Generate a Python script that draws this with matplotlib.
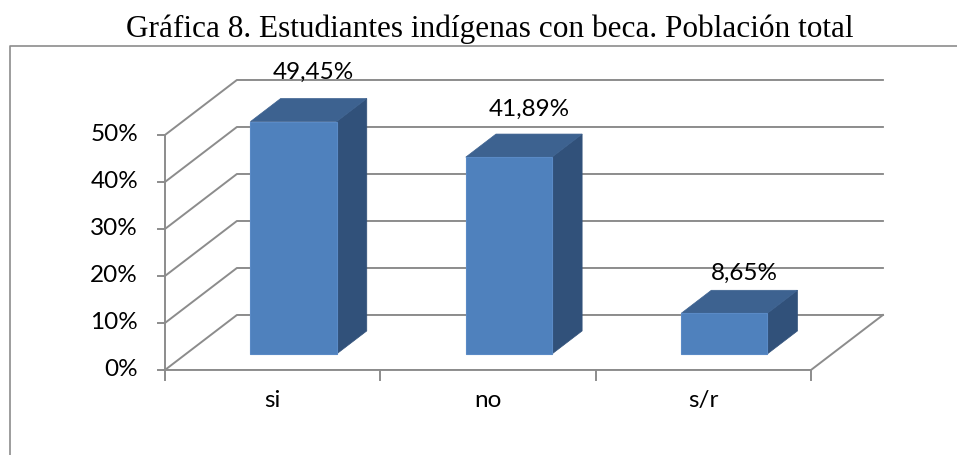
import matplotlib
matplotlib.use("Agg")
from matplotlib import pyplot as plt
from matplotlib.patches import Polygon

categories = ["si", "no", "s/r"]
values = [49.45, 41.89, 8.65]
value_labels = ["49,45%", "41,89%", "8,65%"]
yticks = [0, 10, 20, 30, 40, 50]

# depth offset of the back wall, in (category units, percent units)
ddx, ddy = 0.334, 11.7
front, back = 0.29, 0.71
bar_w = 0.4

grid_c = "#8c8c8c"
face_c = "#4f81bd"
top_c = "#3d6290"
side_c = "#31517a"

fig = plt.figure(figsize=(9.57, 4.55), dpi=100)
ax = fig.add_axes([0, 0, 1, 1])
ax.set_xlim(-0.766, 3.678)
ax.set_ylim(-18.09, 78.72)
ax.axis("off")

n = len(categories)
lw = 1.4
fs = 17.5

# back wall gridlines + left diagonals
for t in yticks:
    ax.plot([0, ddx, n + ddx], [t, t + ddy, t + ddy], color=grid_c, lw=lw, zorder=1)
    ax.plot([-0.033, 0], [t, t], color=grid_c, lw=lw, zorder=1)
    ax.text(-0.125, t, f"{t}%", ha="right", va="center", fontsize=fs,
            family="Lato", color="black")

# floor
ax.plot([0, n, n + ddx], [0, 0, ddy], color=grid_c, lw=lw, zorder=1)
# y axis
ax.plot([0, 0], [0, yticks[-1]], color=grid_c, lw=lw, zorder=1)
# category ticks
for i in range(n + 1):
    ax.plot([i, i], [0, -2.1], color=grid_c, lw=lw, zorder=1)

for i, (cat, v, lab) in enumerate(zip(categories, values, value_labels)):
    x0 = i + 0.5 - bar_w / 2 + front * ddx
    y0 = front * ddy
    ox = (back - front) * ddx
    oy = (back - front) * ddy
    side = [(x0 + bar_w, y0), (x0 + bar_w + ox, y0 + oy),
            (x0 + bar_w + ox, y0 + oy + v), (x0 + bar_w, y0 + v)]
    top = [(x0, y0 + v), (x0 + bar_w, y0 + v),
           (x0 + bar_w + ox, y0 + v + oy), (x0 + ox, y0 + v + oy)]
    frontf = [(x0, y0), (x0 + bar_w, y0), (x0 + bar_w, y0 + v), (x0, y0 + v)]
    ax.add_patch(Polygon(side, closed=True, fc=side_c, ec=side_c, lw=0.5, zorder=3))
    ax.add_patch(Polygon(top, closed=True, fc=top_c, ec=top_c, lw=0.5, zorder=3))
    ax.add_patch(Polygon(frontf, closed=True, fc=face_c, ec="#5a8ac6", lw=0.8, zorder=4))
    ax.text(i + 0.69, v * 1.047 + 11.57, lab, ha="center", va="center",
            fontsize=fs, family="Lato", color="black", zorder=5)
    ax.text(i + 0.5, -6.4, cat, ha="center", va="center", fontsize=fs,
            family="Lato", color="black")

# chart area border
ax.plot([0.0104, 0.0104, 1.01], [-0.01, 0.899, 0.899], color="#8c8c8c",
        lw=1.2, transform=ax.transAxes, clip_on=False)

fig.text(0.512, 0.9187, "Gráfica 8. Estudiantes indígenas con beca. Población total",
         ha="center", va="baseline", fontsize=22.5, family="Liberation Serif")

fig.savefig("out.png", dpi=100)
